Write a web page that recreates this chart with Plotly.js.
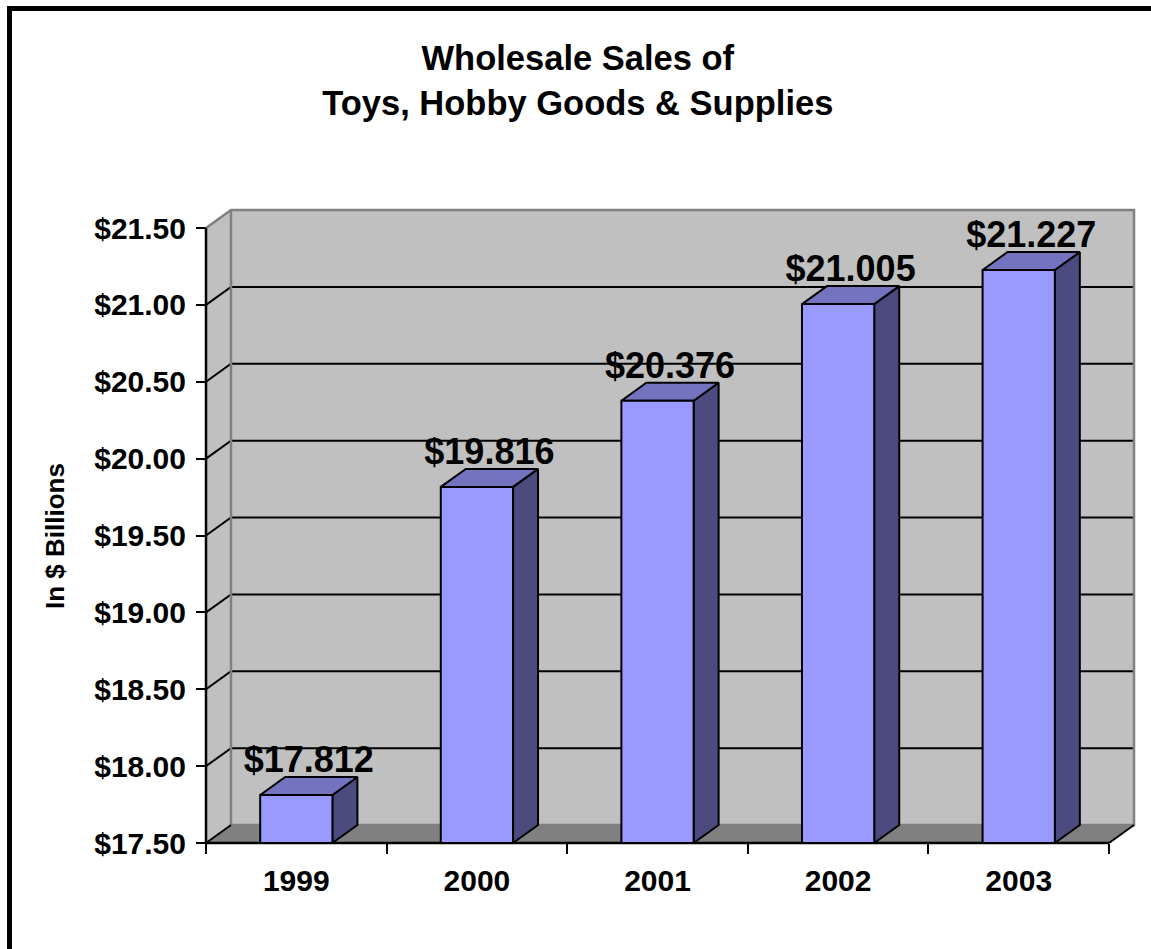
<!DOCTYPE html>
<html>
<head>
<meta charset="utf-8">
<script src="https://cdn.plot.ly/plotly-3.0.1.min.js"></script>
<style>
  html, body { margin: 0; padding: 0; background: #ffffff; overflow: hidden; }
  #chart { position: absolute; left: 0; top: 0; width: 1151px; height: 949px; }
  #frame { position: absolute; left: 7px; top: 6px; width: 3000px; height: 3000px;
           border-left: 5px solid #000; border-top: 5px solid #000; pointer-events: none; }
</style>
</head>
<body>
<div id="chart"></div>
<div id="frame"></div>
<script>
// ---- data ----
const years = ['1999', '2000', '2001', '2002', '2003'];
const sales = [17.812, 19.816, 20.376, 21.005, 21.227];
const salesLabels = ['$17.812', '$19.816', '$20.376', '$21.005', '$21.227'];
const yTickVals = [17.5, 18.0, 18.5, 19.0, 19.5, 20.0, 20.5, 21.0, 21.5];
const yTickText = ['$17.50', '$18.00', '$18.50', '$19.00', '$19.50', '$20.00', '$20.50', '$21.00', '$21.50'];

// ---- geometry (style constants) ----
const PXX = 180.6, PXY = 153.75;       // pixels per unit on x / y
const DX = 25 / PXX, DY = 18 / PXY;     // 3D depth offset in data units
const X0 = -0.5, X1 = years.length - 0.5;
const YB = yTickVals[0], YT = yTickVals[yTickVals.length - 1];
const BW = 0.4;
const LABEL_DROP = 4 / PXY;
const FONT = 'Liberation Sans, Arial, Helvetica, sans-serif';
const xIdx = years.map((_, i) => i);

const traces = [];
const base = { type: 'scatter', mode: 'lines', hoverinfo: 'skip', showlegend: false };

// left side wall
traces.push(Object.assign({}, base, {
  x: [X0, X0, X0 + DX, X0 + DX, X0], y: [YB, YT, YT + DY, YB + DY, YB],
  fill: 'toself', fillcolor: '#c0c0c0', line: { width: 0 }
}));
// back wall
traces.push(Object.assign({}, base, {
  x: [X0 + DX, X1 + DX, X1 + DX, X0 + DX, X0 + DX], y: [YB + DY, YB + DY, YT + DY, YT + DY, YB + DY],
  fill: 'toself', fillcolor: '#c0c0c0', line: { width: 0 }
}));
// floor
traces.push(Object.assign({}, base, {
  x: [X0, X1, X1 + DX, X0 + DX, X0], y: [YB, YB, YB + DY, YB + DY, YB],
  fill: 'toself', fillcolor: '#808080', line: { width: 0 }
}));
// gridlines (left wall diagonal + back wall horizontal)
const gx = [], gy = [];
yTickVals.slice(1, -1).forEach(v => {
  gx.push(X0, X0 + DX, X1 + DX, null);
  gy.push(v, v + DY, v + DY, null);
});
traces.push(Object.assign({}, base, { x: gx, y: gy, line: { color: '#000000', width: 2 } }));
// wall borders (gray)
traces.push(Object.assign({}, base, {
  x: [X0, X0 + DX, X1 + DX, X1 + DX, X0 + DX, X0 + DX],
  y: [YT, YT + DY, YT + DY, YB + DY, YB + DY, YT + DY],
  line: { color: '#808080', width: 2.5 }
}));
// floor diagonals
traces.push(Object.assign({}, base, {
  x: [X0, X0 + DX, null, X1, X1 + DX], y: [YB, YB + DY, null, YB, YB + DY],
  line: { color: '#000000', width: 2 }
}));
// axis lines
traces.push(Object.assign({}, base, {
  x: [X0, X0, null, X0, X1], y: [YT, YB, null, YB, YB],
  line: { color: '#000000', width: 2.5 }
}));

// bars: side, top, front faces
const sx = [], sy = [], tx = [], ty = [], fx = [], fy = [];
sales.forEach((v, i) => {
  const xl = xIdx[i] - BW / 2, xr = xIdx[i] + BW / 2;
  sx.push(xr, xr, xr + DX, xr + DX, xr, null);
  sy.push(YB, v, v + DY, YB + DY, YB, null);
  tx.push(xl, xr, xr + DX, xl + DX, xl, null);
  ty.push(v, v, v + DY, v + DY, v, null);
  fx.push(xl, xl, xr, xr, xl, null);
  fy.push(YB, v, v, YB, YB, null);
});
const edge = { color: '#000000', width: 2 };
traces.push(Object.assign({}, base, { x: sx, y: sy, fill: 'toself', fillcolor: '#4b4b80', line: edge }));
traces.push(Object.assign({}, base, { x: tx, y: ty, fill: 'toself', fillcolor: '#7373c0', line: edge }));
traces.push(Object.assign({}, base, { x: fx, y: fy, fill: 'toself', fillcolor: '#9999ff', line: edge }));

// value labels
traces.push({
  type: 'scatter', mode: 'text', hoverinfo: 'skip', showlegend: false, cliponaxis: false,
  x: xIdx.map(i => i + DX / 2), y: sales.map(v => v + DY - LABEL_DROP),
  text: salesLabels, textposition: 'top center',
  textfont: { family: FONT, size: 36, color: '#000000', weight: 'bold' }
});

const L = 200, R = 6, T = 200, B = 99, W = 1151, H = 949;
const plotW = W - L - R, plotH = H - T - B;
const frontLeftPx = 206, frontBottomPx = 843;

const layout = {
  width: W, height: H,
  margin: { l: L, r: R, t: T, b: B, pad: 0 },
  paper_bgcolor: '#ffffff', plot_bgcolor: 'rgba(0,0,0,0)',
  showlegend: false,
  title: {
    text: 'Wholesale Sales of<br>Toys, Hobby Goods & Supplies',
    font: { family: FONT, size: 34.5, color: '#000000', weight: 'bold' },
    x: 0.502, xref: 'container', xanchor: 'center',
    y: 1 - 70 / H, yref: 'container', yanchor: 'top'
  },
  xaxis: {
    range: [X0 - (frontLeftPx - L) / PXX, X0 + (W - R - frontLeftPx) / PXX],
    anchor: 'free', position: (H - B - frontBottomPx) / plotH,
    showgrid: false, zeroline: false, showline: false,
    tickmode: 'array', tickvals: xIdx, ticktext: years, ticks: '',
    tickfont: { family: FONT, size: 30, color: '#000000', weight: 'bold' },
    ticklabelstandoff: 17,
    minor: { tickmode: 'array', tickvals: xIdx.map(i => i - 0.5).concat([X1]),
             ticks: 'outside', ticklen: 10, tickwidth: 2, tickcolor: '#000000', showgrid: false }
  },
  yaxis: {
    range: [YB - (H - B - frontBottomPx) / PXY, YB + (frontBottomPx - T) / PXY],
    anchor: 'free', position: (frontLeftPx - L) / plotW, side: 'left',
    showgrid: false, zeroline: false, showline: false,
    tickmode: 'array', tickvals: yTickVals, ticktext: yTickText,
    ticks: 'outside', ticklen: 10, tickwidth: 2, tickcolor: '#000000',
    tickfont: { family: FONT, size: 30, color: '#000000', weight: 'bold' },
    ticklabelstandoff: 4
  },
  annotations: [{
    text: 'In $ Billions', textangle: -90, showarrow: false,
    xref: 'paper', yref: 'paper',
    x: (55 - L) / plotW, y: (H - B - 536) / plotH, xanchor: 'center', yanchor: 'middle',
    font: { family: FONT, size: 26, color: '#000000', weight: 'bold' }
  }]
};

Plotly.newPlot('chart', traces, layout, { staticPlot: true, displayModeBar: false });
</script>
</body>
</html>
